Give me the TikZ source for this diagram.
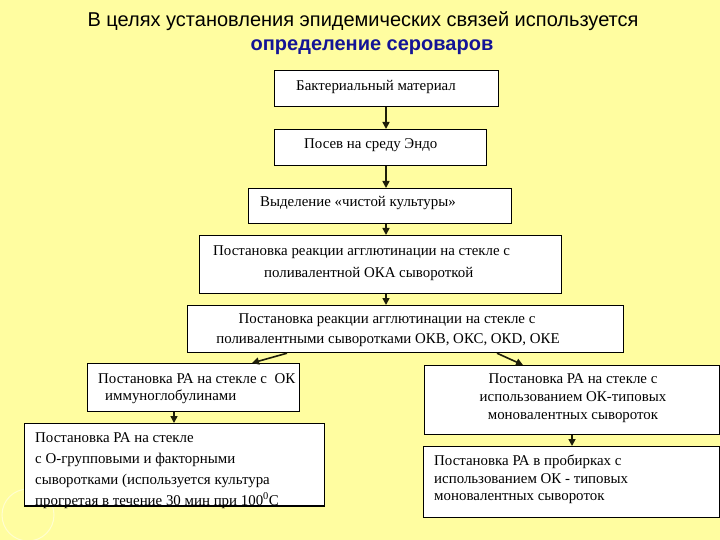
\documentclass[tikz,border=0pt]{standalone}
\usepackage{fontspec}
\setmainfont{Liberation Serif}
\newfontfamily\titlefont{Liberation Sans}
\usetikzlibrary{arrows.meta}
\definecolor{bg}{RGB}{255,253,160}
\definecolor{titleblue}{RGB}{20,20,150}
\definecolor{arr}{RGB}{30,30,10}
\tikzset{
  box/.style={draw=black, line width=1.2pt, fill=white, inner sep=0pt, anchor=north west},
  txt/.style={anchor=base west, inner sep=0pt, font=\fontsize{14.9}{17}\selectfont},
  ctxt/.style={anchor=base, inner sep=0pt, font=\fontsize{14.9}{17}\selectfont},
  flow/.style={draw=arr, line width=1.6pt, -{Triangle[length=7pt,width=7pt]}},
}
\begin{document}
\begin{tikzpicture}[x=1pt,y=-1pt]
\fill[bg] (0,0) rectangle (720,540);
\useasboundingbox (0,0) rectangle (720,540);
\draw[white, opacity=0.5, line width=1pt] (28,515) circle (26);
% title
\node[anchor=base, inner sep=0pt, font=\titlefont\fontsize{20}{23}\selectfont] (t1) at (363,27) {В целях установления эпидемических связей используется};
\node[anchor=base, inner sep=0pt, font=\titlefont\bfseries\fontsize{20}{23}\selectfont, text=titleblue] (t2) at (372,51) {определение сероваров};
% boxes
\node[box, minimum width=224, minimum height=36] (b1) at (274,70) {};
\node[box, minimum width=212, minimum height=36] (b2) at (274,129) {};
\node[box, minimum width=263, minimum height=35] (b3) at (248,188) {};
\node[box, minimum width=362, minimum height=58] (b4) at (199,235) {};
\node[box, minimum width=436, minimum height=47] (b5) at (187,305) {};
\node[box, minimum width=212, minimum height=48] (b6) at (87,363) {};
\node[box, minimum width=300, minimum height=82] (b7) at (24,423) {};
\node[box, minimum width=295, minimum height=69] (b8) at (424,365) {};
\node[box, minimum width=296, minimum height=71] (b9) at (423,446) {};
% texts
\node[txt] (x1) at (296,91) {Бактериальный материал};
\node[txt] (x2) at (304,149) {Посев на среду Эндо};
\node[txt] (x3) at (260,207) {Выделение «чистой культуры»};
\node[txt] (x4a) at (213,255) {Постановка реакции агглютинации на стекле с};
\node[txt] (x4b) at (264,277) {поливалентной ОКА сывороткой};
\node[ctxt] (x5a) at (387,323) {Постановка реакции агглютинации на стекле с};
\node[ctxt] (x5b) at (388,343) {поливалентными сыворотками ОКВ, ОКС, ОКD, ОКЕ};
\node[txt] (x6a) at (98,383) {Постановка РА на стекле с\ \ ОК};
\node[txt] (x6b) at (105,400) {иммуноглобулинами};
\node[txt] (x7a) at (35,442) {Постановка РА на стекле};
\node[txt] (x7b) at (35,463) {с О-групповыми и факторными};
\node[txt] (x7c) at (35,484) {сыворотками (используется культура};
\node[txt] (x7d) at (35,505) {прогретая в течение 30 мин при 100\textsuperscript{0}С};
\draw[black, line width=1.2pt] (b7.south west) -- (b7.south east);
\node[ctxt] (x8a) at (573,383) {Постановка РА на стекле с};
\node[ctxt] (x8b) at (573,401) {использованием ОК-типовых};
\node[ctxt] (x8c) at (573,419) {моновалентных сывороток};
\node[txt] (x9a) at (434,465) {Постановка РА в пробирках с};
\node[txt] (x9b) at (434,483) {использованием ОК - типовых};
\node[txt] (x9c) at (434,500) {моновалентных сывороток};
% arrows
\draw[flow] (b1.south -| 386,0) -- (b2.north -| 386,0);
\draw[flow] (b2.south -| 386,0) -- (b3.north -| 386,0);
\draw[flow] (b3.south -| 386,0) -- (b4.north -| 386,0);
\draw[flow] (b4.south -| 386,0) -- (b5.north -| 386,0);
\draw[flow] (b5.south -| 287,0) -- (b6.north -| 252,0);
\draw[flow] (b5.south -| 497,0) -- (b8.north -| 523,0);
\draw[flow] (b6.south -| 174,0) -- (b7.north -| 174,0);
\draw[flow] (b8.south -| 572,0) -- (b9.north -| 572,0);
\end{tikzpicture}
\end{document}
